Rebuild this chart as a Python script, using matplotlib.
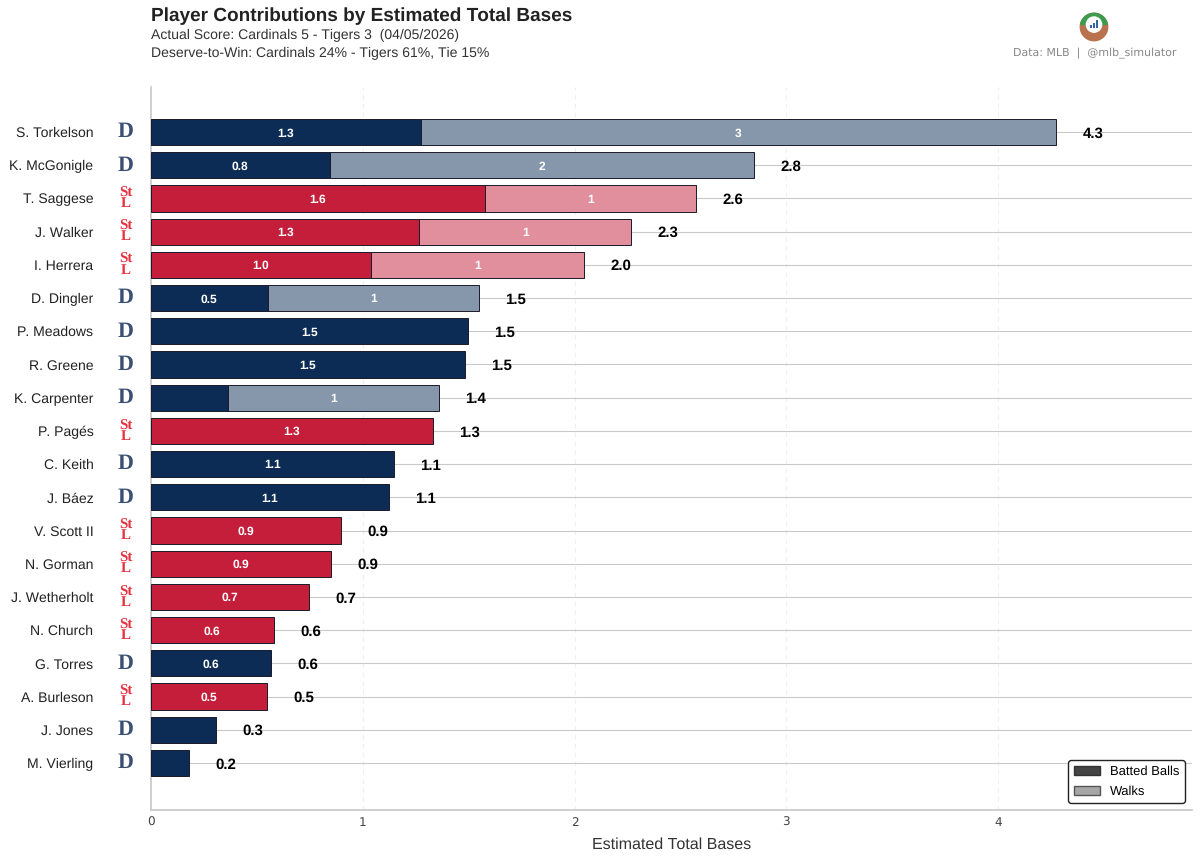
import matplotlib
matplotlib.use("Agg")
import matplotlib.pyplot as plt
from matplotlib.colors import to_rgb
from matplotlib.patches import Patch, Wedge, Circle

players = ["S. Torkelson", "K. McGonigle", "T. Saggese", "J. Walker", "I. Herrera", "D. Dingler",
           "P. Meadows", "R. Greene", "K. Carpenter", "P. Pagés", "C. Keith", "J. Báez", "V. Scott II",
           "N. Gorman", "J. Wetherholt", "N. Church", "G. Torres", "A. Burleson", "J. Jones", "M. Vierling"]
teams = ["DET", "DET", "STL", "STL", "STL", "DET", "DET", "DET", "DET", "STL",
         "DET", "DET", "STL", "STL", "STL", "STL", "DET", "STL", "DET", "DET"]
batted = [1.273, 0.843, 1.575, 1.268, 1.038, 0.551, 1.495, 1.481, 0.362, 1.33,
          1.146, 1.122, 0.895, 0.848, 0.744, 0.579, 0.565, 0.546, 0.307, 0.178]
walks = [3.0, 2.003, 1.0, 1.0, 1.005, 0.997, 0, 0, 0.997, 0, 0, 0, 0, 0, 0, 0, 0, 0, 0, 0]
batted_labels = ["1.3", "0.8", "1.6", "1.3", "1.0", "0.5", "1.5", "1.5", "", "1.3",
                 "1.1", "1.1", "0.9", "0.9", "0.7", "0.6", "0.6", "0.5", "", ""]
walk_labels = ["3", "2", "1", "1", "1", "1", "", "", "1", "", "", "", "", "", "", "", "", "", "", ""]
total_labels = ["4.3", "2.8", "2.6", "2.3", "2.0", "1.5", "1.5", "1.5", "1.4", "1.3",
                "1.1", "1.1", "0.9", "0.9", "0.7", "0.6", "0.6", "0.5", "0.3", "0.2"]
x_ticks = [0, 1, 2, 3, 4]

team_colors = {"DET": "#0C2C56", "STL": "#C41E3A"}
logo_colors = {"DET": "#3A4F72", "STL": "#E8303F"}
logo_text = {"DET": "D", "STL": "St\nL"}
FONT = ["Liberation Sans", "DejaVu Sans"]
plt.rcParams["font.family"] = FONT
plt.rcParams["text.hinting"] = "no_hinting"
plt.rcParams["text.hinting_factor"] = 1


def tint(color, a=0.5):
    return tuple(a * v + (1 - a) for v in to_rgb(color))


W, H = 1200, 860
fig = plt.figure(figsize=(W / 100, H / 100), dpi=100, facecolor="white")
ax = fig.add_axes([151 / W, 1 - 810 / H, (1192 - 151) / W, (810 - 87) / H])

ypos = list(range(len(players)))
ax.set_axisbelow(True)
ax.grid(axis="y", color="#c9c9c9", lw=0.8)
ax.grid(axis="x", color="#efefef", lw=0.8, ls=(0, (4, 4)))

for y, name, team, b, w, bl, wl, tl in zip(ypos, players, teams, batted, walks,
                                          batted_labels, walk_labels, total_labels):
    c = team_colors[team]
    ax.barh(y, b, height=0.79, color=c, edgecolor="#1a1a2a", lw=0.7, zorder=3)
    if w:
        ax.barh(y, w, left=b, height=0.79, color=tint(c), edgecolor="#1a1a2a", lw=0.7, zorder=3)
    if bl:
        ax.text(b / 2, y, bl, ha="center", va="center_baseline", color="white", fontsize=8.8, fontweight="bold", zorder=4)
    if wl:
        ax.text(b + w / 2, y, wl, ha="center", va="center_baseline", color="white", fontsize=8.8, fontweight="bold", zorder=4)
    ax.text(b + w + 0.125, y, tl, ha="left", va="center_baseline", color="black", fontsize=10.5, fontweight="bold", zorder=4)
    ax.annotate(name, (0, y), xycoords=("axes fraction", "data"), xytext=(-57.5 * 0.72, 0), textcoords="offset points",
                ha="right", va="center_baseline", fontsize=10.4, color="#222222")
    ax.annotate(logo_text[team], (0, y), xycoords=("axes fraction", "data"), xytext=(-25 * 0.72, 0),
                textcoords="offset points", ha="center", va="center",
                fontsize=16 if team == "DET" else 10.5, linespacing=0.68,
                fontweight="bold", family=["Liberation Serif", "DejaVu Serif"],
                color=logo_colors[team])

ax.set_xlim(0, (1192 - 151) / 211.75)
ax.set_ylim(19 + (810 - 763) / 33.2, -(132 - 87) / 33.2)
ax.set_xticks(x_ticks)
ax.set_yticks(ypos)
ax.set_yticklabels([])
ax.tick_params(axis="y", length=0)
ax.tick_params(axis="x", length=0, labelsize=8.5, labelcolor="#444444", pad=5)
for lab in ax.get_xticklabels():
    lab.set_family("DejaVu Sans")
ax.set_xlabel("Estimated Total Bases", fontsize=11.7, color="#333333", labelpad=6)
for s in ["top", "right"]:
    ax.spines[s].set_visible(False)
for s in ["left", "bottom"]:
    ax.spines[s].set_color("#cccccc")
    ax.spines[s].set_linewidth(1.3)

leg = ax.legend(handles=[Patch(facecolor="#444444", edgecolor="#333333", label="Batted Balls"),
                         Patch(facecolor="#a6a6a6", edgecolor="#555555", label="Walks")],
                loc="lower right", bbox_to_anchor=(1 - 7 / 1041, 7 / 723), borderaxespad=0,
                fontsize=9.6, frameon=True, fancybox=True, framealpha=1, edgecolor="#222222",
                handlelength=2.0, handleheight=0.7, handletextpad=0.75, borderpad=0.4, labelspacing=0.6)
leg.get_frame().set_linewidth(1.0)
leg.set_zorder(6)

fig.text(151 / W, 1 - 16 / H, "Player Contributions by Estimated Total Bases", fontsize=13.6, fontweight="bold",
         color="#222222", va="center", ha="left")
fig.text(151 / W, 1 - 35 / H, "Actual Score: Cardinals 5 - Tigers 3  (04/05/2026)", fontsize=10.4, color="#333333",
         va="center", ha="left")
fig.text(151 / W, 1 - 53 / H, "Deserve-to-Win: Cardinals 24% - Tigers 61%, Tie 15%", fontsize=10.4, color="#333333",
         va="center", ha="left")
fig.text(1176 / W, 1 - 53.5 / H, "Data: MLB  |  @mlb_simulator", fontsize=8.1, color="#888888", family="DejaVu Sans",
         va="center", ha="right")

logo = fig.add_axes([1078 / W, 1 - 43 / H, 32 / W, 32 / H])
logo.set_xlim(-1, 1)
logo.set_ylim(-1, 1)
logo.set_aspect("equal")
logo.axis("off")
logo.add_patch(Wedge((0, 0), 0.9, 0, 360, facecolor="#B8734E", edgecolor="none"))
logo.add_patch(Wedge((0, 0), 0.9, 10, 170, facecolor="#3E9A4E", edgecolor="none"))
logo.add_patch(Circle((0, 0.15), 0.52, facecolor="white", edgecolor="none"))
logo.bar([-0.18, 0.0, 0.18], [0.18, 0.32, 0.48], width=0.13, bottom=-0.05, color="#3465A4")

fig.savefig("out.png", dpi=100, facecolor="white")
